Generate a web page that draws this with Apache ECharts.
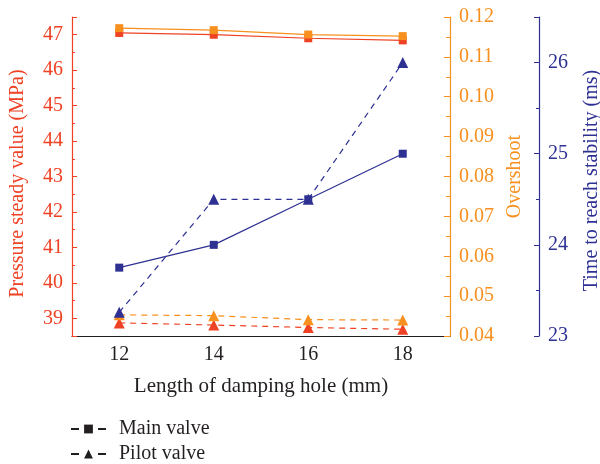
<!DOCTYPE html>
<html>
<head>
<meta charset="utf-8">
<script src="https://cdn.jsdelivr.net/npm/echarts@6/dist/echarts.min.js"></script>
<style>
  html, body { margin: 0; padding: 0; background: #fff; }
  #chart { width: 600px; height: 464px; }
</style>
</head>
<body>
<div id="chart"></div>
<script>
var lengths = ['12', '14', '16', '18'];
var pressureMain = [47.05, 47.0, 46.9, 46.84];
var pressurePilot = [38.87, 38.81, 38.74, 38.69];
var overshootMain = [0.1172, 0.1167, 0.1156, 0.1152];
var overshootPilot = [0.0453, 0.0451, 0.0441, 0.0440];
var timeMain = [23.75, 24.0, 24.5, 25.0];
var timePilot = [23.26, 24.5, 24.5, 26.0];

var RED = '#EF4123', ORANGE = '#F7901E', BLUE = '#2E3192', INK = '#231f20';
var FONT = 'Liberation Serif';
var DASH = [6, 5];

function lineSeries(name, data, axis, color, pilot) {
    return {
        name: name,
        type: 'line',
        yAxisIndex: axis,
        data: data,
        symbol: pilot ? 'triangle' : 'rect',
        symbolSize: pilot ? 11 : 8,
        itemStyle: { color: color },
        lineStyle: { color: color, width: 1.2, type: pilot ? DASH : 'solid' },
        animation: false
    };
}

function legendRow(name, top) {
    return {
        orient: 'vertical',
        left: 65,
        top: top,
        itemWidth: 35,
        itemHeight: 11,
        data: [name],
        textStyle: { fontFamily: FONT, fontSize: 20, color: INK, padding: [0, 0, 0, 8] }
    };
}

var chart = echarts.init(document.getElementById('chart'), null, { renderer: 'canvas' });
var option = {
    animation: false,
    grid: { left: 72, top: 17, width: 378, height: 319, containLabel: false, outerBoundsMode: 'none' },
    legend: [legendRow('Main valve', 414), legendRow('Pilot valve', 439)],
    xAxis: [{
        type: 'category',
        data: lengths,
        boundaryGap: true,
        name: 'Length of damping hole (mm)',
        nameLocation: 'middle',
        nameGap: 40,
        nameTextStyle: { fontFamily: FONT, fontSize: 21, color: INK },
        axisLine: { lineStyle: { color: INK, width: 1.2 } },
        axisTick: { alignWithLabel: true, inside: true, length: 6, lineStyle: { color: INK } },
        axisLabel: { fontFamily: FONT, fontSize: 20, color: INK, margin: 9 },
        splitLine: { show: false }
    }, {
        type: 'category',
        data: lengths,
        boundaryGap: true,
        axisLine: { show: false },
        axisTick: { inside: true, length: 3, lineStyle: { color: INK } },
        axisLabel: { show: false },
        splitLine: { show: false }
    }],
    yAxis: [{
        type: 'value',
        position: 'left',
        min: 38.5, max: 47.5, interval: 0.5,
        name: 'Pressure steady value (MPa)',
        nameLocation: 'middle',
        nameGap: 44,
        nameTextStyle: { fontFamily: FONT, fontSize: 20, color: RED, padding: [0, 14, 0, 0] },
        axisLine: { show: true, lineStyle: { color: RED, width: 1.2 } },
        axisTick: { show: true, inside: true, length: 3, lineStyle: { color: RED } },
        axisLabel: {
            fontFamily: FONT, fontSize: 20, color: RED, margin: 9,
            formatter: function (v) { return v % 1 === 0 ? String(v) : ''; }
        },
        splitLine: { show: false }
    }, {
        type: 'value',
        position: 'left',
        min: 38.5, max: 47.5, splitNumber: 9, minInterval: 1, maxInterval: 1,
        axisLine: { show: false },
        axisTick: { show: true, inside: true, length: 5, lineStyle: { color: RED } },
        axisLabel: { show: false },
        splitLine: { show: false }
    }, {
        type: 'value',
        position: 'right',
        min: 0.04, max: 0.12, interval: 0.01,
        name: 'Overshoot',
        nameLocation: 'middle',
        nameGap: 52,
        nameTextStyle: { fontFamily: FONT, fontSize: 20, color: ORANGE },
        axisLine: { show: true, lineStyle: { color: ORANGE, width: 1.2 } },
        axisTick: { show: true, inside: true, length: 6, lineStyle: { color: ORANGE } },
        minorTick: { show: true, splitNumber: 2, length: 4, lineStyle: { color: ORANGE } },
        axisLabel: {
            fontFamily: FONT, fontSize: 20, color: ORANGE, margin: 9,
            formatter: function (v) { return v.toFixed(2); }
        },
        splitLine: { show: false },
        minorSplitLine: { show: false }
    }, {
        type: 'value',
        position: 'right',
        offset: 89,
        min: 23, max: 26.5, interval: 0.5,
        name: 'Time to reach stability (ms)',
        nameLocation: 'middle',
        nameGap: 43,
        nameTextStyle: { fontFamily: FONT, fontSize: 20, color: BLUE, padding: [0, 8, 0, 0] },
        axisLine: { show: true, lineStyle: { color: BLUE, width: 1.2 } },
        axisTick: { show: true, inside: true, length: 3, lineStyle: { color: BLUE } },
        axisLabel: {
            fontFamily: FONT, fontSize: 20, color: BLUE, margin: 9,
            formatter: function (v) { return v % 1 === 0 ? String(v) : ''; }
        },
        splitLine: { show: false }
    }, {
        type: 'value',
        position: 'right',
        offset: 89,
        min: 23, max: 26.5, interval: 1,
        axisLine: { show: false },
        axisTick: { show: true, inside: true, length: 5, lineStyle: { color: BLUE } },
        axisLabel: { show: false },
        splitLine: { show: false }
    }],
    series: [
        lineSeries('pressure main', pressureMain, 0, RED, false),
        lineSeries('pressure pilot', pressurePilot, 0, RED, true),
        lineSeries('overshoot main', overshootMain, 2, ORANGE, false),
        lineSeries('overshoot pilot', overshootPilot, 2, ORANGE, true),
        lineSeries('time main', timeMain, 4, BLUE, false),
        lineSeries('time pilot', timePilot, 4, BLUE, true),
        {
            name: 'Main valve', type: 'line', data: [], symbol: 'rect',
            itemStyle: { color: INK },
            lineStyle: { color: INK, width: 1.2, type: [8, 19] }
        },
        {
            name: 'Pilot valve', type: 'line', data: [], symbol: 'triangle',
            itemStyle: { color: INK },
            lineStyle: { color: INK, width: 1.2, type: [8, 19] }
        }
    ]
};
chart.setOption(option);
</script>
</body>
</html>
